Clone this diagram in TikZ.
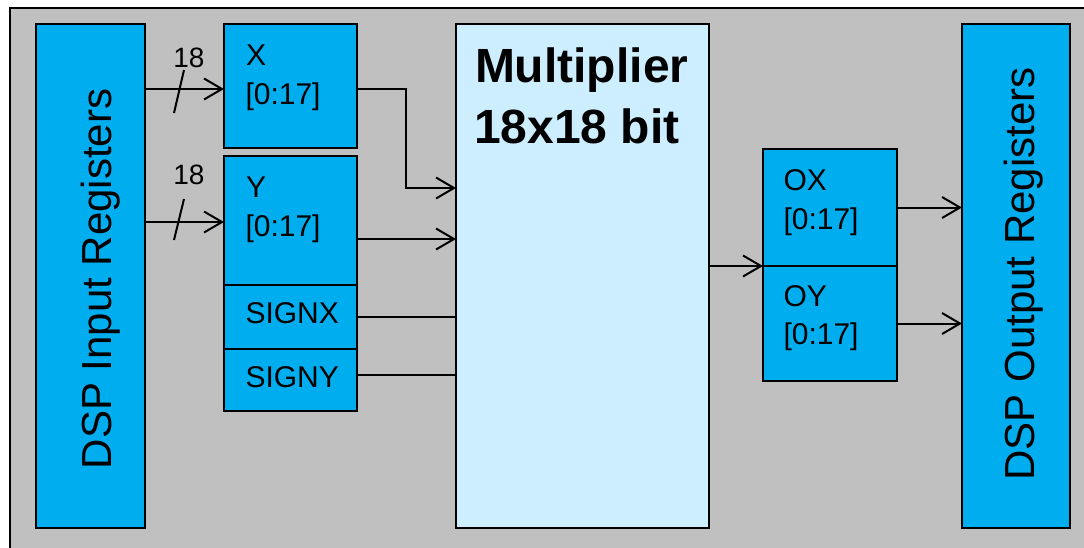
\documentclass[tikz,border=0pt]{standalone}
\usepackage{fontspec}
\setmainfont{Liberation Sans}
\usetikzlibrary{arrows.meta}
\definecolor{bgray}{HTML}{C0C0C0}
\definecolor{rblue}{HTML}{00ADEF}
\definecolor{lblue}{HTML}{CCEEFF}
\begin{document}
\begin{tikzpicture}[x=1pt,y=-1pt, line width=2pt,
  box/.style={draw=black, fill=rblue, anchor=north west, inner sep=0pt, outer sep=0pt},
  lbl/.style={anchor=base west, inner sep=0pt, font=\fontsize{30}{36}\selectfont},
  vlbl/.style={rotate=90, anchor=base, inner sep=0pt, font=\fontsize{42}{50}\selectfont},
  mlbl/.style={anchor=base west, inner sep=0pt, font=\bfseries\fontsize{48}{60}\selectfont},
  nlbl/.style={anchor=base, inner sep=0pt, font=\fontsize{28}{33}\selectfont},
  arr/.style={-{Straight Barb[length=18pt,width=21pt]}},
]
\useasboundingbox (0,0) rectangle (1084,547);
\fill[white] (0,0) rectangle (1084,547);
\begin{scope}
  \clip (0,0) rectangle (1084,547);
  \draw[fill=bgray] (10,8) rectangle (1100,560);
\end{scope}

% boxes
\node[box, minimum width=109pt, minimum height=504pt] (in) at (36,24) {};
\node[box, minimum width=133pt, minimum height=124pt] (X) at (224,24) {};
\node[box, minimum width=133pt, minimum height=129pt] (Y) at (224,156) {};
\node[box, minimum width=133pt, minimum height=64pt] (SX) at (224,285) {};
\node[box, minimum width=133pt, minimum height=62pt] (SY) at (224,349) {};
\node[box, fill=lblue, minimum width=253pt, minimum height=504pt] (mult) at (456,24) {};
\node[box, minimum width=134pt, minimum height=117pt] (OX) at (763,149) {};
\node[box, minimum width=134pt, minimum height=115pt] (OY) at (763,266) {};
\node[box, minimum width=108pt, minimum height=504pt] (out) at (962,24) {};

% texts
\node[vlbl] (intxt) at (111,279) {DSP Input Registers};
\node[vlbl] (outtxt) at (1034,274) {DSP Output Registers};
\node[lbl] (xt1) at (245,65) {X};
\node[lbl] (xt2) at (244.5,104) {[0:17]};
\node[lbl] (yt1) at (245,197) {Y};
\node[lbl] (yt2) at (244.5,236) {[0:17]};
\node[lbl] (sxt) at (244.5,323) {SIGNX};
\node[lbl] (syt) at (244.5,387) {SIGNY};
\node[lbl] (oxt1) at (782.5,190) {OX};
\node[lbl] (oxt2) at (782.5,229) {[0:17]};
\node[lbl] (oyt1) at (782.5,306) {OY};
\node[lbl] (oyt2) at (782.5,344) {[0:17]};
\node[mlbl] (mt1) at (474,82) {Multiplier};
\node[mlbl] (mt2) at (473,143) {18x18 bit};
\node[nlbl] (n1) at (189,67) {18};
\node[nlbl] (n2) at (189,184) {18};

% connectors
\draw[arr] ([yshift=-3pt]X.west -| in.east) -- ([yshift=-3pt]X.west);
\draw[arr] ([yshift=-1.5pt]Y.west -| in.east) -- ([yshift=-1.5pt]Y.west);
\draw (174,113) -- (184,70);
\draw (174,240) -- (184,199);
\draw[arr] ([yshift=-3pt]X.east) -- ++(49,0) |- ([yshift=88pt]mult.west);
\draw[arr] ([yshift=-18.5pt]Y.east) -- ([yshift=-18.5pt]Y.east -| mult.west);
\draw (SX.east) -- (SX.east -| mult.west);
\draw ([yshift=5pt]SY.east) -- ([yshift=5pt]SY.east -| mult.west);
\draw[arr] (OX.south west -| mult.east) -- (OX.south west);
\draw[arr] (OX.east) -- (OX.east -| out.west);
\draw[arr] (OY.east) -- (OY.east -| out.west);
\end{tikzpicture}
\end{document}
